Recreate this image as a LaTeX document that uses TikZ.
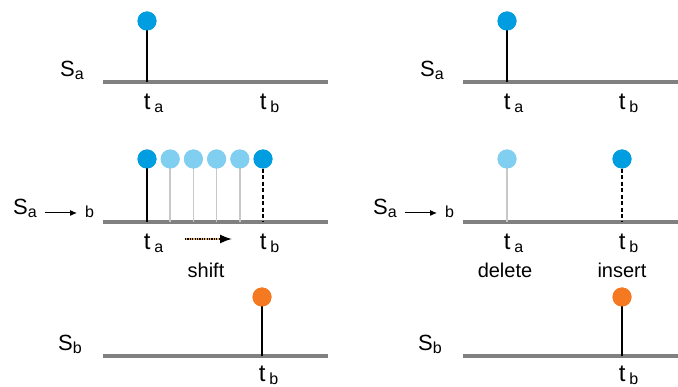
\documentclass[tikz,border=0pt]{standalone}
\usepackage{fontspec}
\setmainfont{Liberation Sans}
\usetikzlibrary{arrows.meta,calc}
\definecolor{dotblue}{RGB}{0,158,224}
\definecolor{dotlight}{RGB}{128,206,240}
\definecolor{dotorange}{RGB}{244,121,32}
\definecolor{axisgray}{RGB}{128,128,128}
\definecolor{stemlight}{RGB}{200,200,200}
\definecolor{shiftorange}{RGB}{235,175,80}
\newcommand{\Slab}[1]{{\fontsize{22}{22}\selectfont S}\raisebox{-3pt}{\fontsize{16}{16}\selectfont #1}}
\newcommand{\tlab}[1]{{\fontsize{24}{24}\selectfont t}\hspace{4pt}\raisebox{-3pt}{\fontsize{16}{16}\selectfont #1}}
\tikzset{
  axis/.style={draw=axisgray, line width=4pt},
  stemline/.style={line width=2pt, black},
  faintstem/.style={line width=1.5pt, stemlight},
  dashstem/.style={line width=2pt, black, dash pattern=on 4pt off 2.5pt},
  dotnode/.style={circle, inner sep=0pt, minimum size=19pt},
  bluedot/.style={dotnode, fill=dotblue},
  lightdot/.style={dotnode, fill=dotlight},
  orangedot/.style={dotnode, fill=dotorange},
  lab/.style={anchor=base west, inner sep=0pt},
  word/.style={anchor=base, inner sep=0pt, font=\fontsize{20}{20}\selectfont},
  smallarrow/.style={-{Latex[length=7pt,width=6pt]}, line width=1pt, black}
}
\begin{document}
\begin{tikzpicture}[x=1pt,y=-1pt]
\useasboundingbox (0,0) rectangle (678,387);
% ---------- row 1 ----------
\coordinate (A1l) at (103,82); \coordinate (A1r) at (328,82);
\coordinate (B1l) at (463,82); \coordinate (B1r) at (678,82);
\draw[axis] (A1l) -- (A1r);
\draw[axis] (B1l) -- (B1r);
\coordinate (A1ta) at (147,82); \coordinate (B1ta) at (507,82);
\node[bluedot] (A1d) at (147,21) {};
\node[bluedot] (B1d) at (507,21) {};
\draw[stemline] (A1d.center) -- (A1ta);
\draw[stemline] (B1d.center) -- (B1ta);
\node[bluedot] at (A1d) {};
\node[bluedot] at (B1d) {};
\node[lab] (A1S) at (60,77) {\Slab{a}};
\node[lab] (B1S) at (420,77) {\Slab{a}};
\node[lab] (A1tal) at (143.6,110) {\tlab{a}};
\node[lab] (A1tbl) at (259.6,110) {\tlab{b}};
\node[lab] (B1tal) at (503.6,110) {\tlab{a}};
\node[lab] (B1tbl) at (618.6,110) {\tlab{b}};
% ---------- row 2 ----------
\coordinate (A2l) at (103,222); \coordinate (A2r) at (328,222);
\coordinate (B2l) at (463,222); \coordinate (B2r) at (678,222);
\draw[axis] (A2l) -- (A2r);
\draw[axis] (B2l) -- (B2r);
\coordinate (A2s1) at (147,222);
\coordinate (A2s2) at (170.2,222);
\coordinate (A2s3) at (193.4,222);
\coordinate (A2s4) at (216.6,222);
\coordinate (A2s5) at (239.8,222);
\coordinate (A2s6) at (263,222);
\node[bluedot] (A2d1) at (147,159) {};
\node[lightdot] (A2d2) at (170.2,159) {};
\node[lightdot] (A2d3) at (193.4,159) {};
\node[lightdot] (A2d4) at (216.6,159) {};
\node[lightdot] (A2d5) at (239.8,159) {};
\node[bluedot] (A2d6) at (263,159) {};
\draw[stemline] (A2d1.center) -- (A2s1);
\draw[faintstem] (A2d2.center) -- (A2s2);
\draw[faintstem] (A2d3.center) -- (A2s3);
\draw[faintstem] (A2d4.center) -- (A2s4);
\draw[faintstem] (A2d5.center) -- (A2s5);
\draw[dashstem] (A2d6.south) -- (A2s6);
\node[bluedot] at (A2d1) {};
\node[lightdot] at (A2d2) {};
\node[lightdot] at (A2d3) {};
\node[lightdot] at (A2d4) {};
\node[lightdot] at (A2d5) {};
\node[bluedot] at (A2d6) {};
\coordinate (B2s1) at (507,222); \coordinate (B2s2) at (622,222);
\node[lightdot] (B2d1) at (507,159) {};
\node[bluedot] (B2d2) at (622,159) {};
\draw[faintstem] (B2d1.center) -- (B2s1);
\draw[dashstem] (B2d2.south) -- (B2s2);
\node[lightdot] at (B2d1) {};
\node[bluedot] at (B2d2) {};
% labels S_a -> b
\node[lab] (A2S) at (13,215) {\Slab{a}};
\coordinate (A2ar1) at (45,213); \coordinate (A2ar2) at (77,213);
\draw[smallarrow] (A2ar1) -- (A2ar2);
\node[lab] (A2b) at (85,218) {\fontsize{16}{16}\selectfont b};
\node[lab] (B2S) at (373,215) {\Slab{a}};
\coordinate (B2ar1) at (405,213); \coordinate (B2ar2) at (437,213);
\draw[smallarrow] (B2ar1) -- (B2ar2);
\node[lab] (B2b) at (445,218) {\fontsize{16}{16}\selectfont b};
\node[lab] (A2tal) at (143.6,250) {\tlab{a}};
\node[lab] (A2tbl) at (259.6,250) {\tlab{b}};
\node[lab] (B2tal) at (503.6,250) {\tlab{a}};
\node[lab] (B2tbl) at (618.6,250) {\tlab{b}};
% shift arrow
\coordinate (sh1) at (185,239); \coordinate (sh2) at (232,239);
\draw[line width=1.6pt, shiftorange] (sh1) -- ($(sh2)+(-10,0)$);
\draw[line width=1.6pt, black, dash pattern=on 1.2pt off 1.2pt, -{Latex[length=12pt,width=9pt]}] (sh1) -- (sh2);
\node[word] (shiftw) at (206,278) {shift};
\node[word] (delw) at (505,278) {delete};
\node[word] (insw) at (622,278) {insert};
% ---------- row 3 ----------
\coordinate (A3l) at (103,356); \coordinate (A3r) at (328,356);
\coordinate (B3l) at (463,356); \coordinate (B3r) at (678,356);
\draw[axis] (A3l) -- (A3r);
\draw[axis] (B3l) -- (B3r);
\coordinate (A3s) at (262,356); \coordinate (B3s) at (622,356);
\node[orangedot] (A3d) at (262,297) {};
\node[orangedot] (B3d) at (622,297) {};
\draw[stemline] (A3d.center) -- (A3s);
\draw[stemline] (B3d.center) -- (B3s);
\node[orangedot] at (A3d) {};
\node[orangedot] at (B3d) {};
\node[lab] (A3S) at (58,351) {\Slab{b}};
\node[lab] (B3S) at (418,351) {\Slab{b}};
\node[lab] (A3tbl) at (258.6,382) {\tlab{b}};
\node[lab] (B3tbl) at (618.6,382) {\tlab{b}};
\end{tikzpicture}
\end{document}
